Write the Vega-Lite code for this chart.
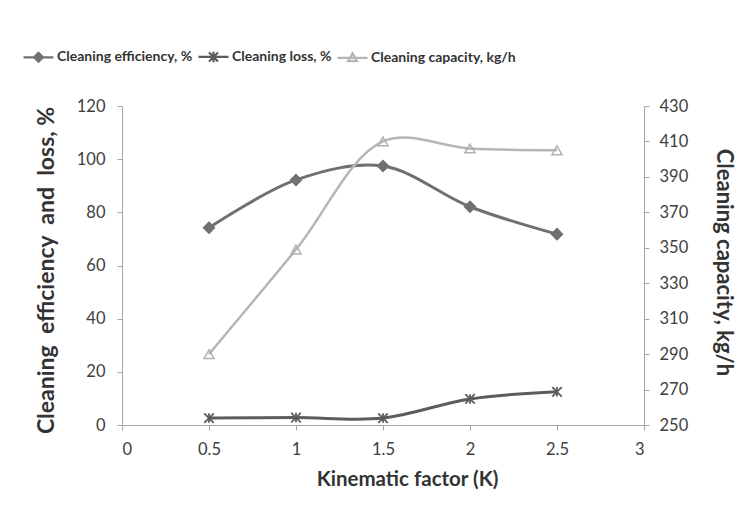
{
  "$schema": "https://vega.github.io/schema/vega-lite/v6.json",
  "width": 522,
  "height": 319,
  "autosize": {"type": "none"},
  "padding": {"left": 122, "top": 106, "right": 112, "bottom": 93},
  "background": "white",
  "config": {
    "view": {"stroke": null},
    "font": "Lato",
    "axis": {
      "grid": false,
      "domainColor": "#a6a6a6",
      "tickColor": "#a6a6a6",
      "tickSize": 5,
      "labelFont": "Lato",
      "labelFontSize": 16.5,
      "labelColor": "#404040",
      "titleFont": "Lato",
      "titleFontWeight": "bold",
      "titleColor": "#333333"
    }
  },
  "data": {
    "values": [
      {"k": 0.5, "series": "Cleaning efficiency, %", "value": 74.2},
      {"k": 1.0, "series": "Cleaning efficiency, %", "value": 92.2},
      {"k": 1.5, "series": "Cleaning efficiency, %", "value": 97.4},
      {"k": 2.0, "series": "Cleaning efficiency, %", "value": 82.1},
      {"k": 2.5, "series": "Cleaning efficiency, %", "value": 71.8},
      {"k": 0.5, "series": "Cleaning loss, %", "value": 2.6},
      {"k": 1.0, "series": "Cleaning loss, %", "value": 2.8},
      {"k": 1.5, "series": "Cleaning loss, %", "value": 2.6},
      {"k": 2.0, "series": "Cleaning loss, %", "value": 9.8},
      {"k": 2.5, "series": "Cleaning loss, %", "value": 12.5},
      {"k": 0.5, "series": "Cleaning capacity, kg/h", "value": 290},
      {"k": 1.0, "series": "Cleaning capacity, kg/h", "value": 349},
      {"k": 1.5, "series": "Cleaning capacity, kg/h", "value": 410},
      {"k": 2.0, "series": "Cleaning capacity, kg/h", "value": 406},
      {"k": 2.5, "series": "Cleaning capacity, kg/h", "value": 405}
    ]
  },
  "layer": [
    {
      "transform": [{"filter": "datum.series !== 'Cleaning capacity, kg/h'"}],
      "encoding": {
        "x": {
          "field": "k", "type": "quantitative",
          "scale": {"domain": [0, 3], "nice": false, "zero": false},
          "axis": {
            "values": [0, 0.5, 1, 1.5, 2, 2.5, 3],
            "format": "~g",
            "title": "Kinematic factor (K)",
            "titleFontSize": 20.5,
            "titleX": 285,
            "labelPadding": 11,
            "titlePadding": 12
          }
        },
        "y": {
          "field": "value", "type": "quantitative",
          "scale": {"domain": [0, 120], "nice": false},
          "axis": {
            "values": [0, 20, 40, 60, 80, 100, 120],
            "title": "Cleaning\u00a0 efficiency\u00a0 and\u00a0 loss, %",
            "titleFontSize": 23,
            "titleY": 164,
            "labelPadding": 12,
            "titlePadding": 18
          }
        }
      },
      "layer": [
        {
          "mark": {"type": "line", "interpolate": "catmull-rom", "strokeWidth": 3},
          "encoding": {
            "color": {
              "field": "series", "type": "nominal",
              "scale": {
                "domain": ["Cleaning efficiency, %", "Cleaning loss, %", "Cleaning capacity, kg/h"],
                "range": ["#707070", "#5c5c5c", "#b5b5b5"]
              },
              "sort": null,
              "legend": {
                "title": null,
                "orient": "none",
                "direction": "horizontal",
                "legendX": -100,
                "legendY": -66,
                "symbolSize": 900,
                "symbolStrokeWidth": 2.2,
                "labelFont": "Lato",
                "labelFontSize": 14,
                "labelFontWeight": "bold",
                "labelColor": "#333333",
                "labelOffset": 2,
                "labelLimit": 400,
                "columnPadding": 1,
                "encode": {
                  "symbols": {
                    "update": {
                      "shape": {"signal": "datum.value === 'Cleaning efficiency, %' ? 'M-1,0H1M0,-0.3L0.3,0L0,0.3L-0.3,0Z' : (datum.value === 'Cleaning loss, %' ? 'M-1,0H1M-0.3,-0.3L0.3,0.3M-0.3,0.3L0.3,-0.3M0,-0.35L0,0.35' : 'M-1,0H1M0,-0.3L0.3,0.22L-0.3,0.22Z')"},
                      "fill": {"signal": "datum.value === 'Cleaning efficiency, %' ? '#707070' : 'transparent'"}
                    }
                  }
                }
              }
            }
          }
        },
        {
          "transform": [{"filter": "datum.series === 'Cleaning efficiency, %'"}],
          "mark": {"type": "point", "shape": "diamond", "size": 170, "filled": true, "color": "#707070", "opacity": 1}
        },
        {
          "transform": [{"filter": "datum.series === 'Cleaning loss, %'"}],
          "mark": {"type": "point", "shape": "M-1,-1L1,1M-1,1L1,-1M0,-1L0,1", "size": 90, "filled": false, "color": "#5c5c5c", "strokeWidth": 1.8, "opacity": 1}
        }
      ]
    },
    {
      "transform": [{"filter": "datum.series === 'Cleaning capacity, kg/h'"}],
      "encoding": {
        "x": {"field": "k", "type": "quantitative"},
        "y": {
          "field": "value", "type": "quantitative",
          "scale": {"domain": [250, 430], "nice": false, "zero": false},
          "axis": {
            "orient": "right",
            "values": [250, 270, 290, 310, 330, 350, 370, 390, 410, 430],
            "title": "Cleaning capacity, kg/h",
            "titleFontSize": 22,
            "titleY": 156,
            "labelPadding": 10,
            "titlePadding": 24
          }
        }
      },
      "layer": [
        {
          "mark": {"type": "line", "interpolate": "catmull-rom", "strokeWidth": 2.5},
          "encoding": {
            "color": {
              "field": "series", "type": "nominal",
              "scale": {
                "domain": ["Cleaning efficiency, %", "Cleaning loss, %", "Cleaning capacity, kg/h"],
                "range": ["#707070", "#5c5c5c", "#b5b5b5"]
              },
              "sort": null
            }
          }
        },
        {
          "mark": {"type": "point", "shape": "triangle-up", "size": 100, "filled": false, "color": "#b0b0b0", "strokeWidth": 1.5, "opacity": 1}
        }
      ]
    }
  ],
  "resolve": {"scale": {"y": "independent"}}
}
